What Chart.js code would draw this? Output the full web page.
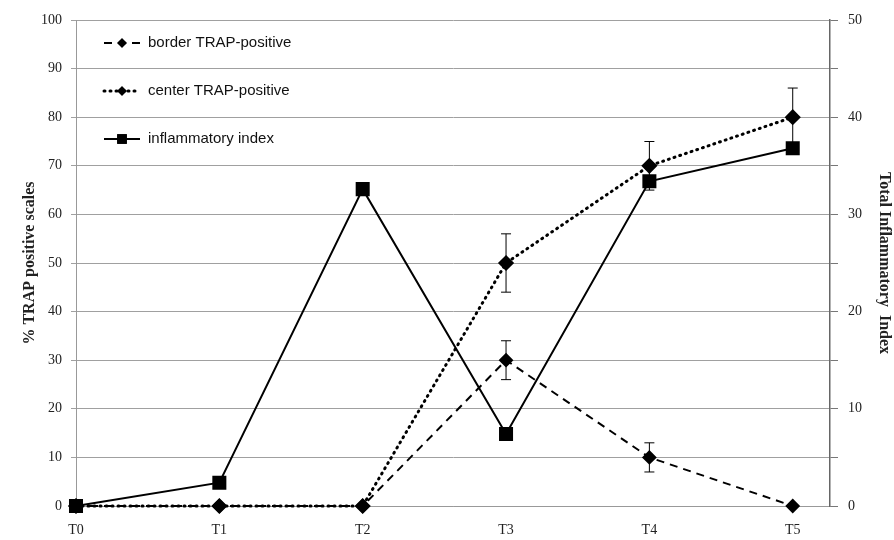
<!DOCTYPE html>
<html lang="en">
<head>
    <meta charset="UTF-8">
    <title>TRAP positive scales</title>
    <script src="https://cdn.jsdelivr.net/npm/chart.js"></script>
    <style>
        html, body { margin: 0; padding: 0; background: #fff; }
        #wrap { width: 894px; height: 540px; }
    </style>
</head>
<body>
    <div id="wrap"><canvas id="trapChart"></canvas></div>

    <script>
        // data
        const categories = ['T0', 'T1', 'T2', 'T3', 'T4', 'T5'];
        const borderTrap = [0, 0, 0, 30, 10, 0];
        const borderErr = [null, null, null, 4, 3, null];
        const centerTrap = [0, 0, 0, 50, 70, 80];
        const centerErr = [null, null, null, 6, 5, 6];
        const inflammIndex = [0, 2.4, 32.6, 7.4, 33.4, 36.8];
        const leftTicks = [0, 10, 20, 30, 40, 50, 60, 70, 80, 90, 100];
        const rightTicks = [0, 10, 20, 30, 40, 50];

        const toPoints = arr => arr.map((v, i) => ({ x: i, y: v }));

        // error bars drawn through the scales
        const errorBars = {
            id: 'errorBars',
            afterDatasetsDraw(chart) {
                const ctx = chart.ctx;
                chart.data.datasets.forEach((ds, di) => {
                    if (!ds.errors) return;
                    const xs = chart.scales.x;
                    const ys = chart.scales[ds.yAxisID];
                    ctx.save();
                    ctx.strokeStyle = '#000';
                    ctx.lineWidth = 1;
                    ds.errors.forEach((e, i) => {
                        if (e == null) return;
                        const v = ds.data[i].y;
                        const px = xs.getPixelForValue(i);
                        const top = ys.getPixelForValue(v + e);
                        const bot = ys.getPixelForValue(v - e);
                        ctx.beginPath();
                        ctx.moveTo(px, top); ctx.lineTo(px, bot);
                        ctx.moveTo(px - 5, top); ctx.lineTo(px + 5, top);
                        ctx.moveTo(px - 5, bot); ctx.lineTo(px + 5, bot);
                        ctx.stroke();
                    });
                    ctx.restore();
                });
            }
        };

        // legend inside the plot, line + marker samples
        const insideLegend = {
            id: 'insideLegend',
            afterDraw(chart) {
                const ctx = chart.ctx;
                const rows = [43, 91, 139];
                chart.data.datasets.forEach((ds, i) => {
                    const y = rows[i];
                    ctx.save();
                    ctx.strokeStyle = '#000';
                    ctx.lineWidth = ds.borderWidth;
                    ctx.setLineDash(ds.borderDash || []);
                    ctx.lineCap = ds.borderCapStyle || 'butt';
                    ctx.beginPath();
                    ctx.moveTo(104, y); ctx.lineTo(140, y);
                    ctx.stroke();
                    ctx.setLineDash([]);
                    Chart.helpers.drawPoint(ctx, {
                        pointStyle: ds.pointStyle,
                        radius: ds.pointRadius * 0.8,
                        borderWidth: 0
                    }, 122, y);
                    ctx.fillStyle = '#000';
                    ctx.fill();
                    ctx.fillStyle = '#111';
                    ctx.font = '15px "Liberation Sans", Arial, sans-serif';
                    ctx.textBaseline = 'middle';
                    ctx.fillText(ds.label, 148, y);
                    ctx.restore();
                });
            }
        };

        const serif = '"Liberation Serif", "Times New Roman", serif';

        new Chart(document.getElementById('trapChart'), {
            type: 'line',
            data: {
                datasets: [{
                    label: 'border TRAP-positive',
                    data: toPoints(borderTrap),
                    errors: borderErr,
                    yAxisID: 'y',
                    borderColor: '#000',
                    backgroundColor: '#000',
                    borderWidth: 2,
                    borderDash: [8, 6],
                    pointStyle: 'rectRot',
                    pointRadius: 6,
                    clip: false,
                    order: 3
                }, {
                    label: 'center TRAP-positive',
                    data: toPoints(centerTrap),
                    errors: centerErr,
                    yAxisID: 'y',
                    borderColor: '#000',
                    backgroundColor: '#000',
                    borderWidth: 3,
                    borderDash: [1, 5],
                    borderCapStyle: 'round',
                    pointStyle: 'rectRot',
                    pointRadius: 6,
                    clip: false,
                    order: 2
                }, {
                    label: 'inflammatory index',
                    data: toPoints(inflammIndex),
                    yAxisID: 'y1',
                    borderColor: '#000',
                    backgroundColor: '#000',
                    borderWidth: 2,
                    pointStyle: 'rect',
                    pointRadius: 8.5,
                    clip: false,
                    order: 1
                }]
            },
            options: {
                responsive: true,
                maintainAspectRatio: false,
                animation: false,
                layout: { padding: { top: 20, left: 0, right: 0, bottom: 0 } },
                plugins: {
                    legend: { display: false },
                    tooltip: { enabled: false }
                },
                elements: { line: { tension: 0 } },
                scales: {
                    x: {
                        type: 'linear',
                        min: 0,
                        max: 5.26,
                        afterBuildTicks: s => { s.ticks = categories.map((c, i) => ({ value: i })); },
                        afterFit: s => { s.height = 34; },
                        grid: { display: false },
                        border: { display: true, color: '#999', width: 1 },
                        ticks: {
                            color: '#222',
                            font: { family: serif, size: 14 },
                            padding: 8,
                            callback: v => categories[v]
                        }
                    },
                    y: {
                        position: 'left',
                        min: 0,
                        max: 100,
                        afterBuildTicks: s => { s.ticks = leftTicks.map(v => ({ value: v })); },
                        afterFit: s => { s.width = 76; },
                        grid: { color: '#a0a0a0', tickLength: 5 },
                        border: { color: '#999' },
                        ticks: {
                            color: '#222',
                            font: { family: serif, size: 14 },
                            padding: 9
                        },
                        title: {
                            display: true,
                            text: '% TRAP positive scales',
                            color: '#222',
                            font: { family: serif, size: 16, weight: 'bold' },
                            padding: { top: 20, bottom: 6 }
                        }
                    },
                    y1: {
                        position: 'right',
                        min: 0,
                        max: 50,
                        afterBuildTicks: s => {
                            const t = [];
                            for (let v = 0; v <= 50; v += 5) t.push({ value: v });
                            s.ticks = t;
                        },
                        afterFit: s => { s.width = 64; },
                        grid: { drawOnChartArea: false, color: '#777', tickLength: 8 },
                        border: { color: '#666', width: 1.5 },
                        ticks: {
                            color: '#222',
                            font: { family: serif, size: 14 },
                            padding: 10,
                            callback: v => rightTicks.includes(v) ? String(v) : ''
                        },
                        title: {
                            display: true,
                            text: 'Total Inflammatory  Index',
                            color: '#222',
                            font: { family: serif, size: 16, weight: 'bold' },
                            padding: { top: 0, bottom: 2 }
                        }
                    }
                }
            },
            plugins: [errorBars, insideLegend]
        });
    </script>
</body>
</html>
